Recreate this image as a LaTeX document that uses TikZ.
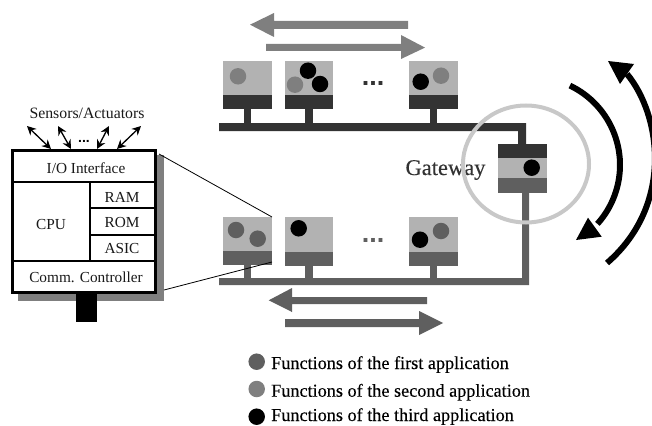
\documentclass[tikz,border=0pt]{standalone}
\usepackage{fontspec}
\setmainfont{Liberation Serif}
\newfontfamily\dotsfont{Liberation Sans}
\newfontfamily\heavyfont[FakeBold=0.25]{Liberation Serif}
\definecolor{cdark}{HTML}{333333}
\definecolor{cmid}{HTML}{5F5F5F}
\definecolor{csec}{HTML}{7F7F7F}
\definecolor{clight}{HTML}{B2B2B2}
\definecolor{cring}{HTML}{C8C8C8}
\usetikzlibrary{arrows.meta}
\tikzset{
  lbl/.style={inner sep=0pt,font=\fontsize{15.3}{17}\selectfont,text=black!90},
  fn/.style={circle,inner sep=0pt,minimum size=16.5pt},
  legendtext/.style={inner sep=0pt,anchor=base west,font=\heavyfont\fontsize{18.2}{20}\selectfont},
  sens/.style={line width=1.3pt,{Stealth[length=9pt,width=9pt]}-{Stealth[length=9pt,width=9pt]}},
  dotsbig/.style={inner sep=0pt,font=\dotsfont\bfseries\fontsize{27}{27}\selectfont},
}
\begin{document}
\begin{tikzpicture}[x=1pt,y=-1pt]
\useasboundingbox (0,0) rectangle (652,425);
% top arrows
\fill[csec] (250,24.7)--(274,13)--(274,21)--(408,21)--(408,29)--(274,29)--(274,37)--cycle;
\fill[csec] (425,47.6)--(401,35)--(401,44)--(266,44)--(266,51)--(401,51)--(401,59)--cycle;
% top nodes
\fill[clight] (223,61) rectangle (272,95);
\fill[cdark] (223,95) rectangle (272,109);
\fill[cdark] (244,109) rectangle (251,123);
\fill[clight] (285,61) rectangle (333,95);
\fill[cdark] (285,95) rectangle (333,109);
\fill[cdark] (305,109) rectangle (313,123);
\fill[clight] (409,61) rectangle (458,95);
\fill[cdark] (409,95) rectangle (458,109);
\fill[cdark] (430,109) rectangle (437,123);
% top bus
\fill[cdark] (219,123) -- (526,123) -- (526,144) -- (518,144) -- (518,131) -- (219,131) -- cycle;
% gateway
\fill[cdark] (498,144) rectangle (547,158);
\fill[clight] (498,158) rectangle (547,178);
\fill[cmid] (498,178) rectangle (547,193);
% lower bus
\fill[cmid] (522,193) -- (529,193) -- (529,285) -- (219,285) -- (219,278) -- (522,278) -- cycle;
% lower nodes
\fill[clight] (223,216.5) rectangle (272,251);
\fill[cmid] (223,251) rectangle (272,265);
\fill[cmid] (244,265) rectangle (251,278);
\fill[clight] (285,217) rectangle (333,252);
\fill[cmid] (285,252) rectangle (333,266);
\fill[cmid] (305,266) rectangle (313,278);
\fill[clight] (409,217) rectangle (458,252);
\fill[cmid] (409,252) rectangle (458,266);
\fill[cmid] (430,266) rectangle (437,278);
% function dots
\node[fn,fill=csec] (t1a) at (238,76.3) {};
\node[fn,fill=black] (t2a) at (308,70.7) {};
\node[fn,fill=csec] (t2b) at (295,84.7) {};
\node[fn,fill=black] (t2c) at (320,84) {};
\node[fn,fill=black] (t3a) at (420.7,81.7) {};
\node[fn,fill=csec] (t3b) at (441,75.7) {};
\node[fn,fill=black] (g1) at (531.7,167.7) {};
\node[fn,fill=cmid] (b1a) at (236,230) {};
\node[fn,fill=cmid] (b1b) at (257.7,238.7) {};
\node[fn,fill=black] (b2a) at (298.7,228.3) {};
\node[fn,fill=black] (b3a) at (420,239.7) {};
\node[fn,fill=cmid] (b3b) at (441,231) {};
% ellipsis
\node[dotsbig,text=cdark,anchor=base] (dotsT) at (373,86) {...};
\node[dotsbig,text=cmid,anchor=base] (dotsB) at (373,242) {...};
% gateway label and ring
\node[inner sep=0pt,font=\heavyfont\fontsize{22.5}{24}\selectfont,text=cdark] (gw) at (445.5,170) {Gateway};
\draw[cring,line width=4pt] (526,164) ellipse [x radius=63,y radius=58.5];
% ECU
\fill[csec] (18,155) rectangle (164,300.5);
\fill[black] (76,294) rectangle (97,322);
\draw[black,line width=3pt,fill=white] (12.5,150.5) rectangle (155.5,292.5);
\draw[black,line width=2pt] (14,182.3) -- (154,182.3);
\draw[black,line width=2pt] (14,261) -- (154,261);
\draw[black,line width=2pt] (90,182.3) -- (90,261);
\draw[black,line width=2pt] (90,208) -- (154,208);
\draw[black,line width=2pt] (90,235) -- (154,235);
\node[lbl] (io) at (86,168) {I/O Interface};
\node[lbl] (cpu) at (51,225) {CPU};
\node[lbl] (ram) at (122,197) {RAM};
\node[lbl] (rom) at (122,223) {ROM};
\node[lbl] (asic) at (122,249) {ASIC};
\node[lbl] (comm) at (86,277) {Comm. Controller};
\node[lbl,font=\fontsize{15.8}{17}\selectfont] (sa) at (87,113) {Sensors/Actuators};
\node[inner sep=0pt,font=\dotsfont\bfseries\fontsize{14}{14}\selectfont,anchor=base] (dotsS) at (84,142) {...};
% sensor arrows
\coordinate (s1) at (27,126); \coordinate (e1) at (51,149);
\coordinate (s2) at (58,126); \coordinate (e2) at (71,149);
\coordinate (s3) at (109,126); \coordinate (e3) at (97,149);
\coordinate (s4) at (141,126); \coordinate (e4) at (117,149);
\draw[sens] (s1) -- (e1);
\draw[sens] (s2) -- (e2);
\draw[sens] (s3) -- (e3);
\draw[sens] (s4) -- (e4);
% zoom lines
\coordinate (z1) at (159,154); \coordinate (z2) at (272,217);
\coordinate (z3) at (164,290); \coordinate (z4) at (272,262);
\draw[black,line width=.8pt] (z1) -- (z2);
\draw[black,line width=.8pt] (z3) -- (z4);
% bottom arrows
\fill[cmid] (268.7,300.3)--(292,288)--(292,297)--(427,297)--(427,304)--(292,304)--(292,312)--cycle;
\fill[cmid] (443,323)--(419,311)--(419,319)--(285,319)--(285,327)--(419,327)--(419,335)--cycle;
% wireless arcs
\draw[black,line width=6pt] plot[domain=-64.5:42,samples=40] ({532+88*cos(\x)},{165+88*sin(\x)});
\fill[black] (576,240)--(588,217.7)--(601.7,236.7)--cycle;
\draw[black,line width=6pt] (607,263) .. controls (674,205) and (661,115) .. (627,74);
\fill[black] (608,61)--(634,64)--(620,84)--cycle;
% legend
\node[fn,fill=cmid] (l1) at (256.7,361.7) {};
\node[fn,fill=csec] (l2) at (256.7,389) {};
\node[fn,fill=black] (l3) at (256.7,416.7) {};
\node[legendtext] (lt1) at (271,369) {Functions of the first application};
\node[legendtext] (lt2) at (271,396.7) {Functions of the second application};
\node[legendtext] (lt3) at (271,421) {Functions of the third application};
\end{tikzpicture}
\end{document}
